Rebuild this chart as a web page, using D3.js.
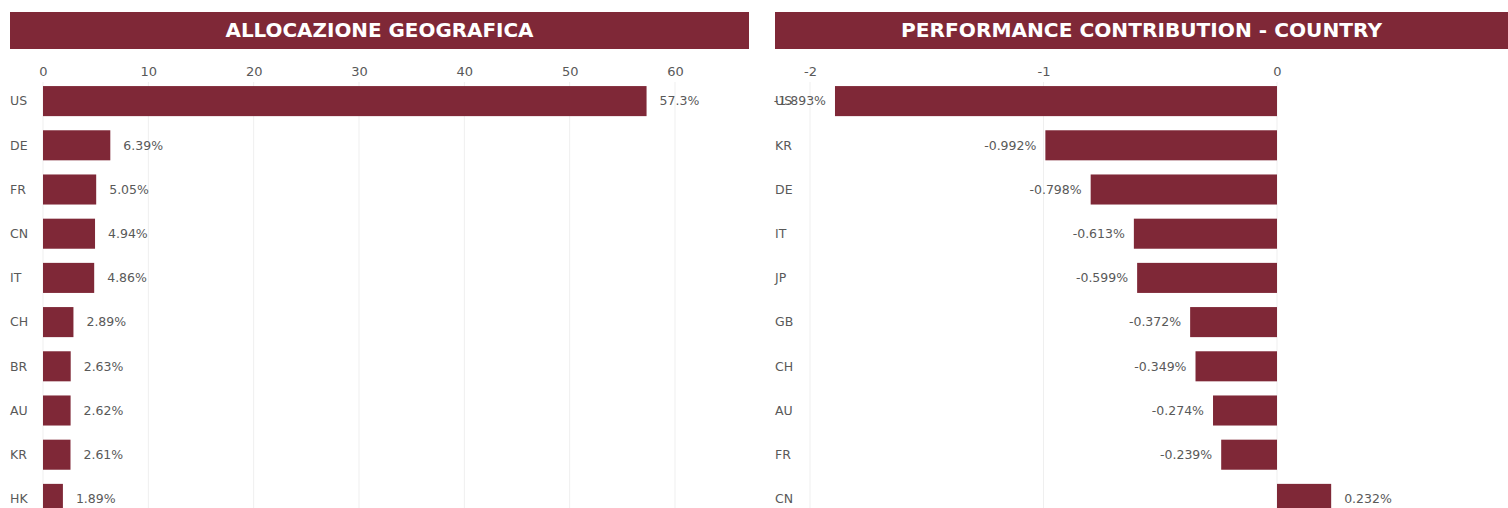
<!DOCTYPE html>
<html>
<head>
<meta charset="utf-8">
<script src="https://cdn.jsdelivr.net/npm/d3@7"></script>
<style>
  html, body { margin: 0; padding: 0; background: #fff; }
  svg { display: block; }
</style>
</head>
<body>
<svg id="chart" width="1508" height="508"></svg>
<script>
// Data
const allocCountries = ["US", "DE", "FR", "CN", "IT", "CH", "BR", "AU", "KR", "HK"];
const allocValues = [57.3, 6.39, 5.05, 4.94, 4.86, 2.89, 2.63, 2.62, 2.61, 1.89];
const allocTicks = [0, 10, 20, 30, 40, 50, 60];

const perfCountries = ["US", "KR", "DE", "IT", "JP", "GB", "CH", "AU", "FR", "CN"];
const perfValues = [-1.893, -0.992, -0.798, -0.613, -0.599, -0.372, -0.349, -0.274, -0.239, 0.232];
const perfTicks = [-2, -1, 0];

const barColor = "#7f2837";
const textColor = "#595959";
const gridColor = "#efefef";
const font = "Tahoma, 'DejaVu Sans', sans-serif";

const svg = d3.select("#chart");

function panel(opts) {
  const g = svg.append("g");

  // header band
  g.append("rect")
    .attr("x", opts.left).attr("y", 12)
    .attr("width", opts.right - opts.left).attr("height", 37)
    .attr("fill", barColor);
  g.append("text")
    .attr("x", (opts.left + opts.right) / 2).attr("y", 30.5)
    .attr("dy", "0.35em")
    .attr("text-anchor", "middle")
    .attr("fill", "#fff")
    .style("font-family", font)
    .style("font-weight", "bold")
    .style("font-size", "19px")
    .attr("textLength", opts.titleWidth)
    .attr("lengthAdjust", "spacingAndGlyphs")
    .text(opts.title);

  const x = d3.scaleLinear().domain(opts.domain).range(opts.range);
  const y = d3.scaleBand()
    .domain(opts.cats)
    .range([79, 79 + 44.2 * opts.cats.length])
    .paddingInner(0.32)
    .paddingOuter(0.16);

  // gridlines
  g.append("g").selectAll("line")
    .data(opts.ticks)
    .join("line")
    .attr("x1", d => x(d)).attr("x2", d => x(d))
    .attr("y1", 82).attr("y2", 508)
    .attr("stroke", gridColor);

  // top axis labels (plain hyphen for negatives, as in the reference)
  const axis = g.append("g")
    .attr("transform", "translate(0,71)")
    .call(d3.axisTop(x).tickValues(opts.ticks).tickSize(0).tickPadding(0).tickFormat(d => String(d)));
  axis.select(".domain").remove();
  axis.selectAll("text")
    .attr("y", 0)
    .attr("dy", "0.35em")
    .attr("fill", textColor)
    .style("font-family", font)
    .style("font-size", "13px");

  const rows = opts.cats.map((c, i) => ({ c, v: opts.values[i] }));

  // category labels
  g.append("g").selectAll("text")
    .data(rows)
    .join("text")
    .attr("x", opts.left)
    .attr("y", d => y(d.c) + y.bandwidth() / 2)
    .attr("dy", "0.35em")
    .attr("fill", textColor)
    .style("font-family", font)
    .style("font-size", "12.5px")
    .text(d => d.c);

  // bars
  g.append("g").selectAll("rect")
    .data(rows)
    .join("rect")
    .attr("x", d => x(Math.min(0, d.v)))
    .attr("y", d => y(d.c))
    .attr("width", d => Math.abs(x(d.v) - x(0)))
    .attr("height", y.bandwidth())
    .attr("fill", barColor);

  // value labels
  g.append("g").selectAll("text")
    .data(rows)
    .join("text")
    .attr("x", d => d.v < 0 ? x(d.v) - 9 : x(d.v) + 13)
    .attr("y", d => y(d.c) + y.bandwidth() / 2)
    .attr("dy", "0.35em")
    .attr("text-anchor", d => d.v < 0 ? "end" : "start")
    .attr("fill", textColor)
    .style("font-family", font)
    .style("font-size", "12.5px")
    .text(d => d.v + "%");
}

panel({
  title: "ALLOCAZIONE GEOGRAFICA",
  titleWidth: 308,
  left: 10, right: 749,
  cats: allocCountries, values: allocValues, ticks: allocTicks,
  domain: [0, 60], range: [43, 675]
});

panel({
  title: "PERFORMANCE CONTRIBUTION - COUNTRY",
  titleWidth: 481,
  left: 775, right: 1508,
  cats: perfCountries, values: perfValues, ticks: perfTicks,
  domain: [-2, 0], range: [810, 1277]
});
</script>
</body>
</html>
